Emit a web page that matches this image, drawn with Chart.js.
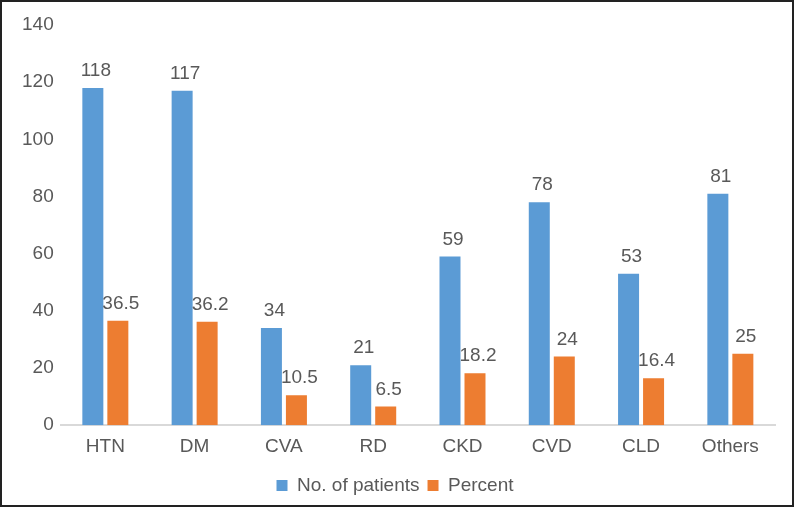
<!DOCTYPE html>
<html>
<head>
<meta charset="utf-8">
<script src="https://cdn.jsdelivr.net/npm/chart.js@4"></script>
<style>
  html, body { margin: 0; padding: 0; background: #fff; }
  #wrap { width: 794px; height: 507px; box-sizing: border-box; border: 2px solid #222; position: relative; }
  canvas { display: block; }
</style>
</head>
<body>
<div id="wrap"><canvas id="chart" width="790" height="503"></canvas></div>
<script>
const categories = ["HTN", "DM", "CVA", "RD", "CKD", "CVD", "CLD", "Others"];
const patients = [118, 117, 34, 21, 59, 78, 53, 81];
const percent = [36.5, 36.2, 10.5, 6.5, 18.2, 24, 16.4, 25];
const yTicks = [0, 20, 40, 60, 80, 100, 120, 140];

const textColor = "#595959";
const font = "'Liberation Sans', Arial, sans-serif";
const fontSize = 19;

// values written above each bar
const barLabels = {
    id: "barLabels",
    afterDatasetsDraw(chart) {
        const ctx = chart.ctx;
        ctx.save();
        ctx.fillStyle = textColor;
        ctx.font = fontSize + "px " + font;
        ctx.textAlign = "center";
        ctx.textBaseline = "alphabetic";
        chart.data.datasets.forEach((ds, i) => {
            chart.getDatasetMeta(i).data.forEach((bar, j) => {
                ctx.fillText(String(ds.data[j]), bar.x + 3, bar.y - 12);
            });
        });
        ctx.restore();
    }
};

new Chart(document.getElementById("chart").getContext("2d"), {
    type: "bar",
    data: {
        labels: categories,
        datasets: [
            { label: "No. of patients", data: patients, backgroundColor: "#5B9BD5" },
            { label: "Percent", data: percent, backgroundColor: "#ED7D31" }
        ]
    },
    options: {
        responsive: false,
        animation: false,
        layout: { padding: { top: 23, right: 17, left: 13, bottom: 0 } },
        datasets: {
            bar: { categoryPercentage: 0.56, barPercentage: 0.84 }
        },
        scales: {
            x: {
                grid: { display: false, drawTicks: false },
                border: { display: true, color: "#D9D9D9", width: 2 },
                ticks: { color: textColor, font: { size: fontSize, family: font }, padding: 10 }
            },
            y: {
                min: 0,
                max: 140,
                afterBuildTicks(axis) { axis.ticks = yTicks.map(v => ({ value: v })); },
                grid: { display: false, drawTicks: false },
                border: { display: false },
                ticks: { color: textColor, font: { size: fontSize, family: font }, padding: 7 }
            }
        },
        plugins: {
            legend: {
                position: "bottom",
                labels: {
                    color: textColor,
                    font: { size: fontSize, family: font },
                    boxWidth: 11,
                    boxHeight: 11,
                    padding: 8
                }
            },
            tooltip: { enabled: false }
        }
    },
    plugins: [barLabels]
});
</script>
</body>
</html>
